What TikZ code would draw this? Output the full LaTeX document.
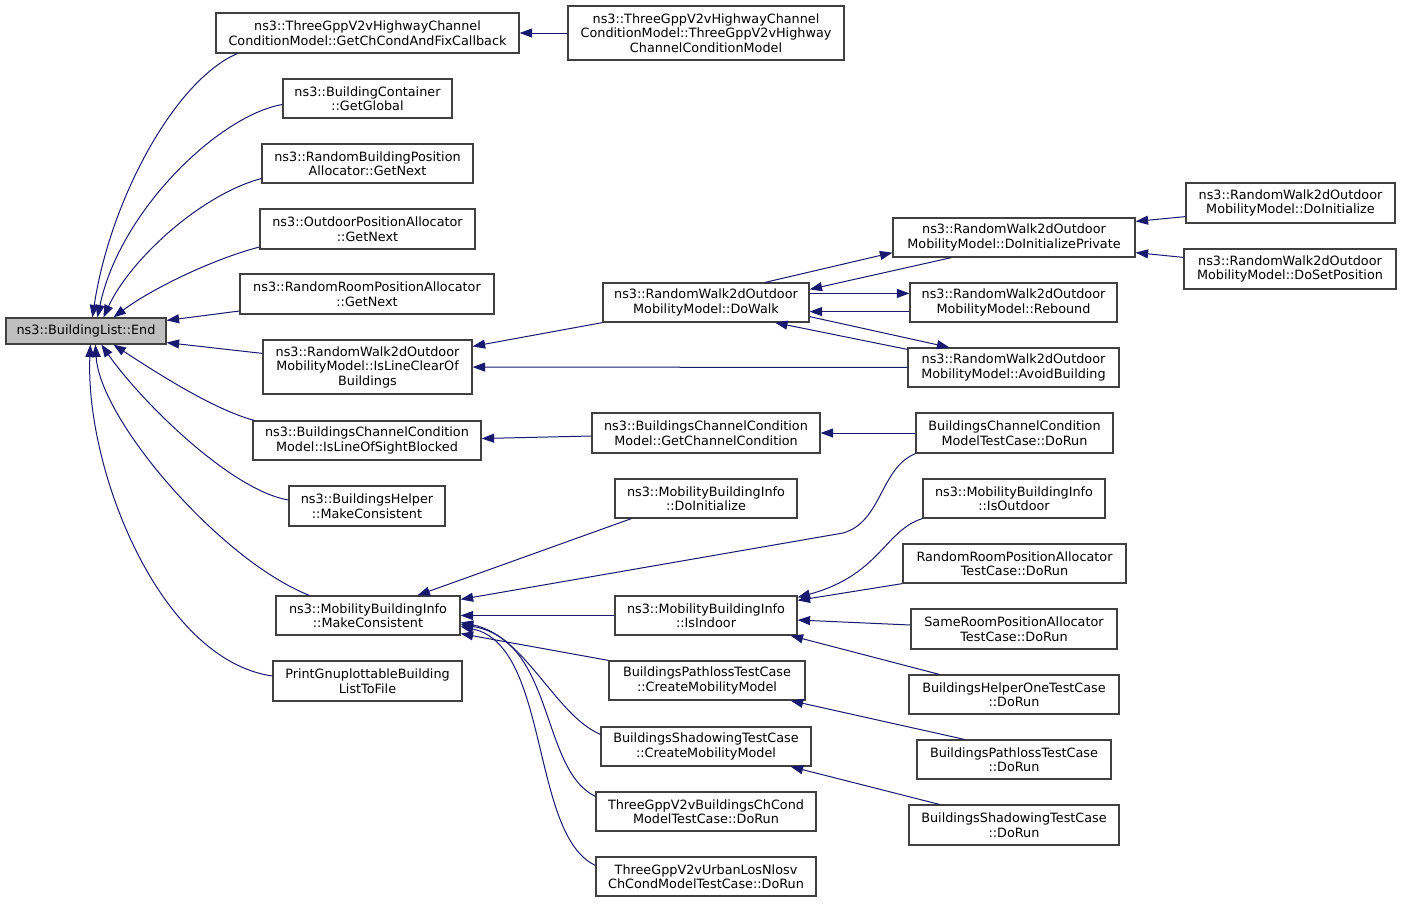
\documentclass[tikz,border=0pt]{standalone}
\usepackage{fontspec}
\setmainfont{DejaVu Sans}
\usetikzlibrary{arrows.meta}
\definecolor{edgecol}{RGB}{25,25,112}
\definecolor{boxline}{RGB}{64,64,64}
\begin{document}
\begin{tikzpicture}[x=1pt,y=-1pt,
  box/.style={draw=boxline, line width=1.2pt, fill=white, inner sep=0pt, align=center,
    font=\fontsize{12.8}{14.5}\selectfont},
  edge/.style={draw=edgecol, line width=1pt, -{Triangle[length=12.5pt,width=9pt]}}]
\useasboundingbox[fill=white] (0,0) rectangle (1403,903);
% nodes
\node[box, fill=black!25, minimum width=160, minimum height=26] (end) at (86,331) {ns3::BuildingList::End};
\node[box, minimum width=303, minimum height=40] (gcc) at (367.5,33) {ns3::ThreeGppV2vHighwayChannel\\ConditionModel::GetChCondAndFixCallback};
\node[box, minimum width=276, minimum height=54] (ctor) at (706,33) {ns3::ThreeGppV2vHighwayChannel\\ConditionModel::ThreeGppV2vHighway\\ChannelConditionModel};
\node[box, minimum width=169, minimum height=39] (gg) at (367.5,98.5) {ns3::BuildingContainer\\::GetGlobal};
\node[box, minimum width=211, minimum height=39] (rbpa) at (367.5,163.5) {ns3::RandomBuildingPosition\\Allocator::GetNext};
\node[box, minimum width=215, minimum height=40] (opa) at (367.5,229) {ns3::OutdoorPositionAllocator\\::GetNext};
\node[box, minimum width=254, minimum height=40] (rrpa) at (367,294) {ns3::RandomRoomPositionAllocator\\::GetNext};
\node[box, minimum width=209, minimum height=54] (ilc) at (367.5,367) {ns3::RandomWalk2dOutdoor\\MobilityModel::IsLineClearOf\\Buildings};
\node[box, minimum width=228, minimum height=39] (ilos) at (367,440.5) {ns3::BuildingsChannelCondition\\Model::IsLineOfSightBlocked};
\node[box, minimum width=156, minimum height=40] (bhmc) at (367,506) {ns3::BuildingsHelper\\::MakeConsistent};
\node[box, minimum width=184, minimum height=39] (mbimc) at (368,615.5) {ns3::MobilityBuildingInfo\\::MakeConsistent};
\node[box, minimum width=189, minimum height=40] (pgb) at (367.5,681) {PrintGnuplottableBuilding\\ListToFile};
\node[box, minimum width=206, minimum height=39] (dowalk) at (706,302.5) {ns3::RandomWalk2dOutdoor\\MobilityModel::DoWalk};
\node[box, minimum width=242, minimum height=39] (dip) at (1014,237.5) {ns3::RandomWalk2dOutdoor\\MobilityModel::DoInitializePrivate};
\node[box, minimum width=207, minimum height=39] (rebound) at (1013.5,302.5) {ns3::RandomWalk2dOutdoor\\MobilityModel::Rebound};
\node[box, minimum width=211, minimum height=39] (avoid) at (1013.5,367.5) {ns3::RandomWalk2dOutdoor\\MobilityModel::AvoidBuilding};
\node[box, minimum width=209, minimum height=40] (doinit) at (1290.5,203) {ns3::RandomWalk2dOutdoor\\MobilityModel::DoInitialize};
\node[box, minimum width=212, minimum height=40] (dsp) at (1290,269) {ns3::RandomWalk2dOutdoor\\MobilityModel::DoSetPosition};
\node[box, minimum width=228, minimum height=40] (gcc2) at (706,433) {ns3::BuildingsChannelCondition\\Model::GetChannelCondition};
\node[box, minimum width=197, minimum height=40] (bcc) at (1014.5,433) {BuildingsChannelCondition\\ModelTestCase::DoRun};
\node[box, minimum width=182, minimum height=39] (mbidi) at (706,498.5) {ns3::MobilityBuildingInfo\\::DoInitialize};
\node[box, minimum width=182, minimum height=39] (isout) at (1014,498.5) {ns3::MobilityBuildingInfo\\::IsOutdoor};
\node[box, minimum width=223, minimum height=39] (rrpatc) at (1014.5,563.5) {RandomRoomPositionAllocator\\TestCase::DoRun};
\node[box, minimum width=182, minimum height=39] (isin) at (706,615.5) {ns3::MobilityBuildingInfo\\::IsIndoor};
\node[box, minimum width=206, minimum height=40] (srpatc) at (1014,629) {SameRoomPositionAllocator\\TestCase::DoRun};
\node[box, minimum width=210, minimum height=39] (bhotc) at (1014,694.5) {BuildingsHelperOneTestCase\\::DoRun};
\node[box, minimum width=196, minimum height=39] (bptcmm) at (707,680.5) {BuildingsPathlossTestCase\\::CreateMobilityModel};
\node[box, minimum width=194, minimum height=39] (bptcdr) at (1014,759.5) {BuildingsPathlossTestCase\\::DoRun};
\node[box, minimum width=210, minimum height=39] (bstcmm) at (706,746.5) {BuildingsShadowingTestCase\\::CreateMobilityModel};
\node[box, minimum width=210, minimum height=40] (bstcdr) at (1014,825) {BuildingsShadowingTestCase\\::DoRun};
\node[box, minimum width=220, minimum height=39] (tgbcc) at (706,811.5) {ThreeGppV2vBuildingsChCond\\ModelTestCase::DoRun};
\node[box, minimum width=220, minimum height=39] (tgul) at (706,876.5) {ThreeGppV2vUrbanLosNlosv\\ChCondModelTestCase::DoRun};
% edges into End
\draw[edge] ([xshift=22]gcc.south west) .. controls (175,80) and (110,200) .. ([xshift=87]end.north west);
\draw[edge] ([yshift=-6]gg.west) .. controls (220,115) and (120,210) .. ([xshift=92]end.north west);
\draw[edge] ([yshift=-15]rbpa.west) .. controls (200,195) and (130,260) .. ([xshift=98]end.north west);
\draw[edge] ([yshift=-18]opa.west) .. controls (210,260) and (150,290) .. ([xshift=108]end.north west);
\draw[edge] ([yshift=-17]rrpa.west) -- ([yshift=-3]end.north east);
\draw[edge] ([yshift=-14]ilc.north west) -- ([yshift=2]end.south east);
\draw[edge] ([xshift=2]ilos.north west) .. controls (215,410) and (160,375) .. ([xshift=108]end.south west);
\draw[edge] ([yshift=6]bhmc.west) .. controls (230,490) and (140,400) .. ([xshift=96]end.south west);
\draw[edge] ([xshift=34]mbimc.north west) .. controls (220,560) and (100,420) .. ([xshift=90]end.south west);
\draw[edge] ([yshift=5]pgb.west) .. controls (160,660) and (85,470) .. ([xshift=85]end.south west);
% other edges
\draw[edge] (ctor) -- (gcc);
\draw[edge] (dowalk.south west) -- ([yshift=-7]ilc.north east);
\draw[edge] (avoid) -- (ilc);
\draw[edge] ([xshift=59]dowalk.north) -- ([yshift=5]dip.south west);
\draw[edge] ([xshift=59]dip.south west) -- ([yshift=-7]dowalk.north east);
\draw[edge] ([yshift=-11]dowalk.north east) -- ([yshift=-11]rebound.north west);
\draw[edge] ([yshift=11]rebound.south west) -- ([yshift=11]dowalk.south east);
\draw[edge] ([yshift=6]dowalk.south east) -- ([xshift=42]avoid.north west);
\draw[edge] ([yshift=-2]avoid.north west) -- ([xshift=69]dowalk.south);
\draw[edge] ([yshift=7]doinit.south west) -- ([yshift=-4]dip.north east);
\draw[edge] ([yshift=-9]dsp.north west) -- ([yshift=5]dip.south east);
\draw[edge] ([yshift=-3]gcc2.west) -- ([yshift=2]ilos.east);
\draw[edge] (bcc) -- (gcc2);
\draw[edge] (bcc.south west) .. controls (880,468) and (882,522) .. (843,533) -- ([yshift=-4]mbimc.north east);
\draw[edge] ([xshift=17]mbidi.south west) -- ([xshift=142]mbimc.north west);
\draw[edge] (isin) -- (mbimc);
\draw[edge] (bptcmm.north west) -- ([yshift=2]mbimc.south east);
\draw[edge] ([yshift=-8]bstcmm.north west) .. controls (555,715) and (525,635) .. ([yshift=-7]mbimc.east);
\draw[edge] ([yshift=-5]tgbcc.north west) .. controls (540,770) and (555,640) .. ([yshift=-9]mbimc.east);
\draw[edge] ([yshift=-9]tgul.north west) .. controls (530,835) and (550,645) .. ([yshift=-11]mbimc.east);
\draw[edge] (isout.south west) .. controls (885,530) and (880,575) .. ([yshift=-2]isin.north east);
\draw[edge] (rrpatc.south west) -- ([yshift=-5]isin.north east);
\draw[edge] ([yshift=4]srpatc.west) -- ([yshift=-4.5]isin.east);
\draw[edge] ([xshift=31]bhotc.north west) -- ([xshift=-7]isin.south east);
\draw[edge] ([xshift=48]bptcdr.north west) -- ([xshift=-15]bptcmm.south east);
\draw[edge] ([xshift=31]bstcdr.north west) -- ([xshift=-21]bstcmm.south east);
\end{tikzpicture}
\end{document}
